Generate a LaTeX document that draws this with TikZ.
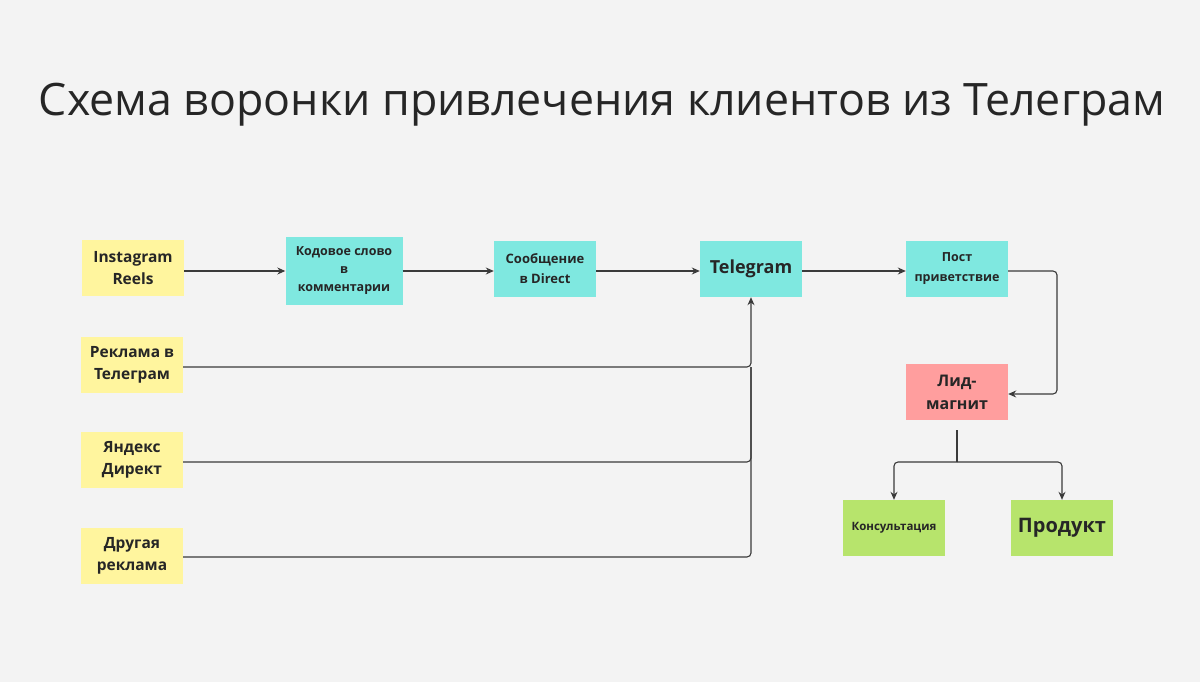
\documentclass[tikz,border=0pt]{standalone}
\usepackage{fontspec}
\setmainfont{Open Sans}
\usetikzlibrary{arrows.meta}
\definecolor{bg}{HTML}{F3F3F3}
\definecolor{yel}{HTML}{FFF59E}
\definecolor{cya}{HTML}{7FE8E0}
\definecolor{pnk}{HTML}{FF9E9E}
\definecolor{grn}{HTML}{B7E46C}
\definecolor{ln}{HTML}{3A3A3A}
\begin{document}
\begin{tikzpicture}[x=1pt,y=-1pt,
 box/.style={draw=none,minimum width=102pt,minimum height=56pt,align=center,font=\bfseries\fontsize{15.5}{22}\selectfont,text=black!85},
 y1/.style={box,fill=yel},c1/.style={box,fill=cya},p1/.style={box,fill=pnk},g1/.style={box,fill=grn},
 ar/.style={draw=ln,line width=1.1pt,-{Stealth[length=8pt,width=7pt]},rounded corners=4pt},
 li/.style={draw=ln,line width=1.1pt,rounded corners=4pt}]
\fill[bg] (0,0) rectangle (1200,682);
\useasboundingbox (0,0) rectangle (1200,682);
\node[text=black!85] (title) at (602,105) {\fontsize{44.7}{52}\selectfont Схема воронки привлечения клиентов из Телеграм};
\node[y1] (ig) at (133,268) {Instagram\\Reels};
\node[c1,minimum width=117pt,minimum height=68pt,font=\bfseries\fontsize{12.5}{18}\selectfont] (kod) at (344,271) {Кодовое слово\\в\\комментарии};
\node[c1,font=\bfseries\fontsize{13}{20}\selectfont] (msg) at (545,269) {Сообщение\\в Direct};
\node[c1,font=\bfseries\fontsize{18}{22}\selectfont] (tg) at (751,269) {Telegram};
\node[c1,font=\bfseries\fontsize{12.5}{20}\selectfont] (post) at (957,269) {Пост\\приветствие};
\node[y1] (rek) at (132,365) {Реклама в\\Телеграм};
\node[y1] (ya) at (132,460) {Яндекс\\Директ};
\node[y1] (dr) at (132,556) {Другая\\реклама};
\node[p1,font=\bfseries\fontsize{16}{23}\selectfont] (lid) at (957,392) {Лид-\\магнит};
\node[g1,font=\bfseries\fontsize{11.5}{14}\selectfont] (kon) at (894,528) {Консультация};
\node[g1,font=\bfseries\fontsize{20}{24}\selectfont] (prod) at (1062,528) {Продукт};
\coordinate (tgb) at (751,367);
\draw[ar] (ig.east |- 0,271) -- (kod.west |- 0,271);
\draw[ar] (kod.east |- 0,271) -- (msg.west |- 0,271);
\draw[ar] (msg.east |- 0,271) -- (tg.west |- 0,271);
\draw[ar] (tg.east |- 0,271) -- (post.west |- 0,271);
\draw[ar] (post.east |- 0,271) -- (1057,271) -- (1057,394) -- (lid.east |- 0,394);
\draw[ar] (rek.east |- 0,367) -- (751,367) -- (tg.south);
\draw[li] (ya.east |- 0,462) -- (751,462) -- (tgb);
\draw[li] (dr.east |- 0,557) -- (751,557) -- (tgb);
\coordinate (lb) at (957,430);
\draw[li] (lb) -- (957,462);
\draw[ar] (957,462) -- (894,462) -- (kon.north);
\draw[ar] (957,462) -- (1062,462) -- (prod.north);
\end{tikzpicture}
\end{document}
